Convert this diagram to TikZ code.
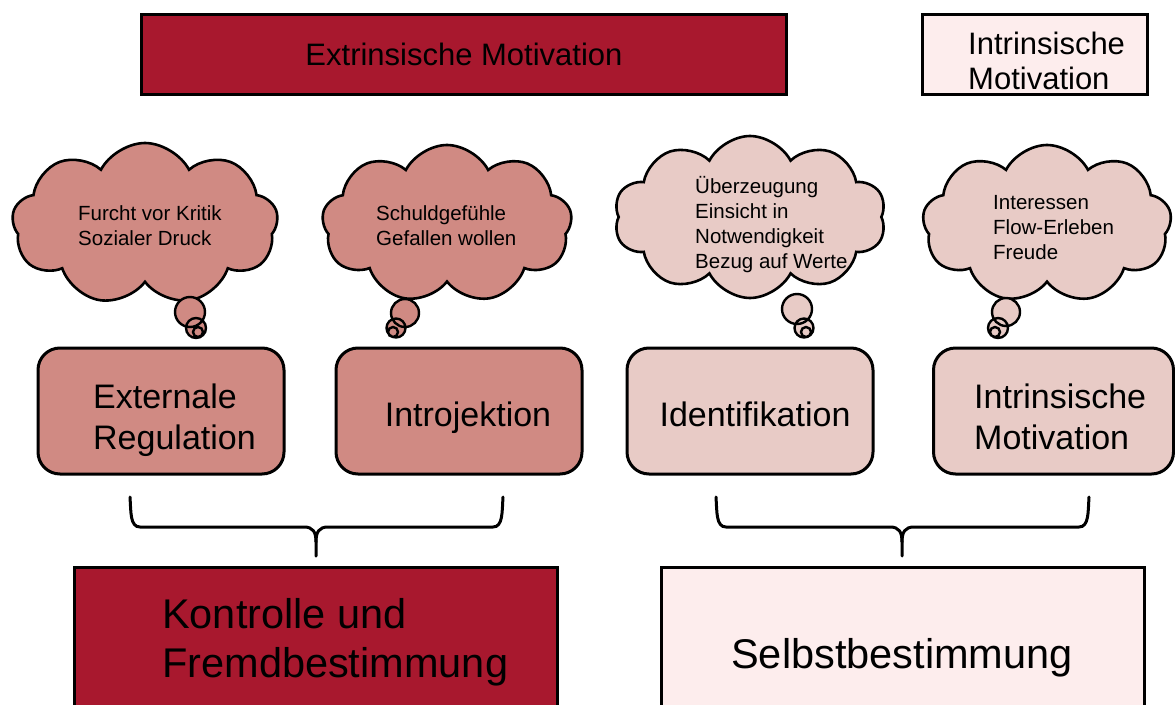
\documentclass[tikz,border=0pt]{standalone}
\usepackage{fontspec}
\setmainfont{Liberation Sans}
\usetikzlibrary{shapes.symbols}
\definecolor{darkred}{HTML}{A8182E}
\definecolor{salmon}{HTML}{D08A83}
\definecolor{lightpink}{HTML}{E8CBC6}
\definecolor{palest}{HTML}{FDEDED}
\tikzset{
  flatbox/.style={draw=black, line width=3pt, inner sep=0pt},
  roundbox/.style={draw=black, line width=3pt, rounded corners=22pt, minimum width=246, minimum height=126, inner sep=0pt},
  cloudshape/.style={cloud, cloud puffs=9, cloud puff arc=125, cloud ignores aspect, draw=black, line width=2.6pt, inner sep=0pt},
  txt/.style={inner sep=0pt, align=left, text=black},
  smalltxt/.style={txt, font=\fontsize{20.5}{25}\selectfont},
  midtxt/.style={txt, font=\fontsize{34}{41}\selectfont},
  bigtxt/.style={txt, font=\fontsize{41.5}{49}\selectfont},
  bubbleline/.style={draw=black, line width=2.4pt},
  bracestyle/.style={draw=black, line width=3pt, line cap=round}
}
\begin{document}
\begin{tikzpicture}[x=1pt,y=-1pt]
\useasboundingbox (0,0) rectangle (1175,704);
\fill[white] (0,0) rectangle (1175,704);
% top boxes
\node[flatbox, fill=darkred, minimum width=645, minimum height=80, font=\fontsize{31}{35}\selectfont] (extr) at (464,54) {Extrinsische Motivation};
\node[flatbox, fill=palest, minimum width=225, minimum height=80] (intr) at (1034.5,54) {};
\node[txt, font=\fontsize{31}{35}\selectfont, anchor=west] (intrtxt) at (968,61) {Intrinsische\\Motivation};
% clouds
\node[cloudshape, fill=salmon, minimum width=266, minimum height=162] (c1) at (145,224) {};
\node[cloudshape, fill=salmon, minimum width=250, minimum height=158] (c2) at (447,224) {};
\node[cloudshape, cloud puffs=10, fill=lightpink, minimum width=272, minimum height=162] (c3) at (750,217) {};
\node[cloudshape, fill=lightpink, minimum width=249, minimum height=158] (c4) at (1047,224) {};
\node[smalltxt, anchor=west] (c1txt) at (78,226) {Furcht vor Kritik\\Sozialer Druck};
\node[smalltxt, anchor=west] (c2txt) at (376,226) {Schuldgefühle\\Gefallen wollen};
\node[smalltxt, anchor=west] (c3txt) at (695,225) {Überzeugung\\Einsicht in\\Notwendigkeit\\Bezug auf Werte};
\node[smalltxt, anchor=west] (c4txt) at (993,228) {Interessen\\Flow-Erleben\\Freude};
% thought bubbles
\fill[salmon] (190,312) circle[radius=15] (196,328) circle[radius=10] (198,332) circle[radius=5];
\draw[bubbleline] (190,312) circle[radius=15] (196,328) circle[radius=10] (198,332) circle[radius=5];
\fill[salmon] (405,313) circle[radius=14] (396,328) circle[radius=9.5] (393,332) circle[radius=5];
\draw[bubbleline] (405,313) circle[radius=14] (396,328) circle[radius=9.5] (393,332) circle[radius=5];
\fill[lightpink] (797,309) circle[radius=15] (804,328) circle[radius=9.5] (806,332) circle[radius=5];
\draw[bubbleline] (797,309) circle[radius=15] (804,328) circle[radius=9.5] (806,332) circle[radius=5];
\fill[lightpink] (1006,312) circle[radius=14] (998,328) circle[radius=10] (995,332) circle[radius=5];
\draw[bubbleline] (1006,312) circle[radius=14] (998,328) circle[radius=10] (995,332) circle[radius=5];
% rounded boxes
\node[roundbox, fill=salmon] (b1) at (161,411) {};
\node[roundbox, fill=salmon] (b2) at (459,411) {};
\node[roundbox, fill=lightpink] (b3) at (750,411) {};
\node[roundbox, fill=lightpink, minimum width=240] (b4) at (1053.5,411) {};
\node[midtxt, anchor=west] (b1txt) at (93,420) {Externale\\Regulation};
\node[midtxt] (b2txt) at (468,418) {Introjektion};
\node[midtxt] (b3txt) at (755,414) {Identifikation};
\node[midtxt, anchor=west] (b4txt) at (974,417) {Intrinsische\\Motivation};
% braces
\draw[bracestyle] (130,497) .. controls (131,512) and (130,527) .. (140,527) -- (304,527) .. controls (313,527) and (316,532) .. (316,542) -- (316,556);
\draw[bracestyle] (503,497) .. controls (502,512) and (503,527) .. (493,527) -- (328,527) .. controls (319,527) and (316,532) .. (316,542);
\draw[bracestyle] (716,497) .. controls (717,512) and (716,527) .. (726,527) -- (890,527) .. controls (899,527) and (902,532) .. (902,542) -- (902,556);
\draw[bracestyle] (1089,497) .. controls (1088,512) and (1089,527) .. (1079,527) -- (914,527) .. controls (905,527) and (902,532) .. (902,542);
% bottom boxes
\node[flatbox, fill=darkred, minimum width=483, minimum height=153] (kon) at (315.5,643.5) {};
\node[flatbox, fill=palest, minimum width=483, minimum height=153] (selbst) at (902.5,643.5) {};
\node[bigtxt, anchor=west] (kontxt) at (162,642) {Kontrolle und\\Fremdbestimmung};
\node[bigtxt] (selbsttxt) at (902,658) {Selbstbestimmung};
\end{tikzpicture}
\end{document}
